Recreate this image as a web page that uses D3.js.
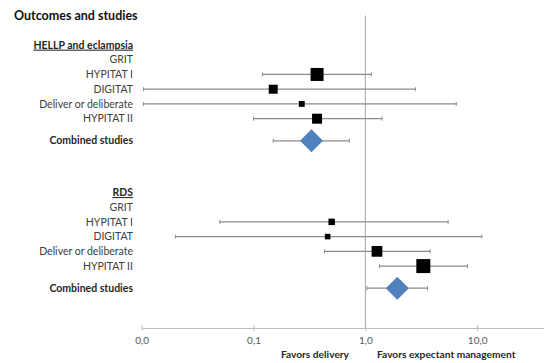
<!DOCTYPE html>
<html>
<head>
    <meta charset="utf-8">
    <title>Outcomes and studies - forest plot</title>
    <style>
        body { margin: 0; background: #fff; }
        svg text { font-family: Lato, "Open Sans", sans-serif; }
        .lbl { font-size: 10.5px; fill: #404040; }
        .bold { font-weight: bold; fill: #262626; }
    </style>
    <script src="https://d3js.org/d3.v7.min.js"></script>
</head>
<body>
<script>
  var studies = ["GRIT", "HYPITAT I", "DIGITAT", "Deliver or deliberate", "HYPITAT II"];
  var outcomes = ["HELLP and eclampsia", "RDS"];

  // odds ratio, lower CI, upper CI, weight (%) ; null = no data
  var hellpOR    = [null, 0.37, 0.15, 0.27, 0.37];
  var hellpLow   = [null, 0.12, 0.0104, 0.0104, 0.10];
  var hellpHigh  = [null, 1.13, 2.8, 6.5, 1.41];
  var hellpW     = [null, 44, 21, 9, 26];
  var hellpComb  = [0.33, 0.15, 0.72];

  var rdsOR    = [null, 0.50, 0.46, 1.27, 3.3];
  var rdsLow   = [null, 0.05, 0.02, 0.43, 1.34];
  var rdsHigh  = [null, 5.5, 11, 3.8, 8.2];
  var rdsW     = [null, 11, 8, 30, 51];
  var rdsComb  = [1.93, 1.03, 3.6];

  var tickValues = [0.01, 0.1, 1, 10];
  var tickLabels = ["0,0", "0,1", "1,0", "10,0"];

  var W = 544, H = 363;
  var svg = d3.select("body").append("svg").attr("width", W).attr("height", H);

  var x = d3.scaleLog().domain([0.01, 100]).range([141.7, 589]);
  // row index -> vertical position
  var y = d3.scaleLinear().domain([-2, 19.2]).range([15.5, 328]);
  var size = d3.scaleSqrt().domain([0, 100]).range([0, 19.6]);

  var labelX = 133;

  svg.append("text").attr("class", "bold").attr("x", 14).attr("y", y(-2))
     .attr("dy", "0.35em").style("font-size", "12.5px").style("fill", "#111")
     .text("Outcomes and studies");

  // reference line at OR = 1
  svg.append("line").attr("x1", x(1)).attr("x2", x(1))
     .attr("y1", y(-2)).attr("y2", y(19.2))
     .attr("stroke", "#a6a6a6").attr("stroke-width", 1);

  var sections = [
    {name: outcomes[0], start: 0, or: hellpOR, lo: hellpLow, hi: hellpHigh, w: hellpW, comb: hellpComb},
    {name: outcomes[1], start: 10, or: rdsOR, lo: rdsLow, hi: rdsHigh, w: rdsW, comb: rdsComb}
  ];

  sections.forEach(function (s) {
    svg.append("text").attr("class", "lbl bold").attr("x", labelX).attr("y", y(s.start))
       .attr("dy", "0.35em").attr("text-anchor", "end")
       .style("text-decoration", "underline").text(s.name);

    studies.forEach(function (name, i) {
      var row = s.start + 1 + i;
      svg.append("text").attr("class", "lbl").attr("x", labelX).attr("y", y(row))
         .attr("dy", "0.35em").attr("text-anchor", "end").text(name);
      if (s.or[i] === null) return;
      drawCI(s.lo[i], s.hi[i], y(row));
      var sz = size(s.w[i]);
      svg.append("rect").attr("x", x(s.or[i]) - sz / 2).attr("y", y(row) - sz / 2)
         .attr("width", sz).attr("height", sz).attr("fill", "#000");
    });

    var crow = s.start + 6.5;
    svg.append("text").attr("class", "lbl bold").attr("x", labelX).attr("y", y(crow))
       .attr("dy", "0.35em").attr("text-anchor", "end").text("Combined studies");
    drawCI(s.comb[1], s.comb[2], y(crow));
    var cx = x(s.comb[0]), cy = y(crow), r = 11.5;
    svg.append("path")
       .attr("d", "M" + (cx - r) + "," + cy + "L" + cx + "," + (cy - r) + "L" + (cx + r) + "," + cy + "L" + cx + "," + (cy + r) + "Z")
       .attr("fill", "#4f81bd");
  });

  function drawCI(lo, hi, yy) {
    svg.append("line").attr("x1", x(lo)).attr("x2", x(hi)).attr("y1", yy).attr("y2", yy)
       .attr("stroke", "#8c8c8c").attr("stroke-width", 1.2);
    [lo, hi].forEach(function (v) {
      svg.append("line").attr("x1", x(v)).attr("x2", x(v)).attr("y1", yy - 2).attr("y2", yy + 2)
         .attr("stroke", "#8c8c8c").attr("stroke-width", 1);
    });
  }

  var axis = svg.append("g").attr("transform", "translate(0," + y(19.2) + ")")
     .call(d3.axisBottom(x).tickValues(tickValues).tickSize(3).tickSizeOuter(0)
       .tickFormat(function (d, i) { return tickLabels[i]; }));
  axis.select(".domain").attr("stroke", "#bfbfbf");
  axis.selectAll(".tick line").attr("stroke", "#bfbfbf").attr("y1", -3);
  axis.selectAll(".tick text").attr("y", 9).attr("fill", "#595959")
      .style("font-size", "10px").style("font-family", "Lato, sans-serif");

  svg.append("text").attr("class", "lbl bold").attr("x", 349).attr("y", 354)
     .attr("dy", "0.35em").attr("text-anchor", "end").style("font-size", "10.2px").text("Favors delivery");
  svg.append("text").attr("class", "lbl bold").attr("x", 377).attr("y", 354)
     .attr("dy", "0.35em").style("font-size", "10.2px").text("Favors expectant management");
</script>
</body>
</html>
